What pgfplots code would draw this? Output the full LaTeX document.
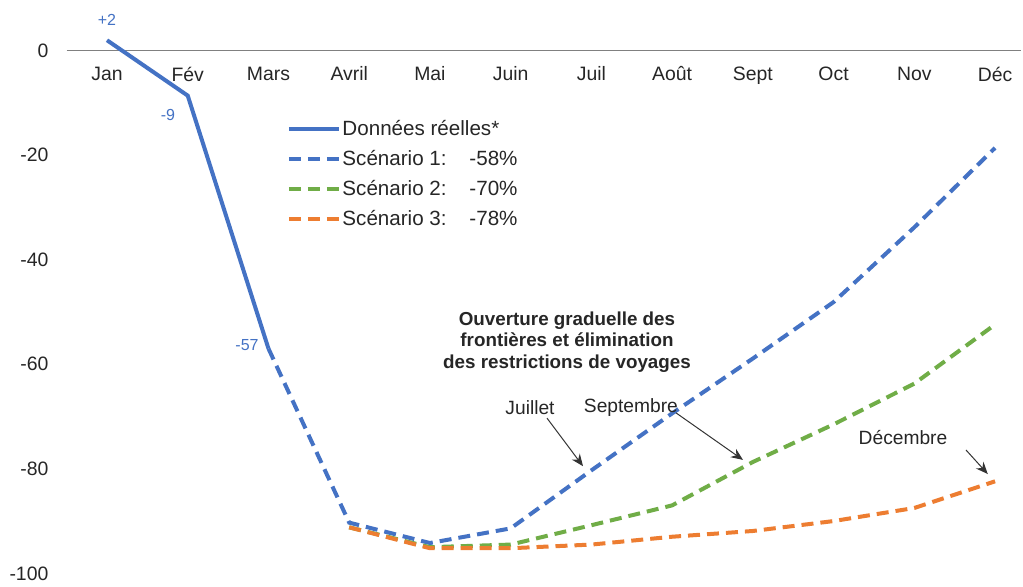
\documentclass[border=0pt]{standalone}
\usepackage{fontspec}
\setmainfont{Liberation Sans}
\usepackage{pgfplots}
\pgfplotsset{compat=1.18}
\usetikzlibrary{arrows.meta}

\definecolor{sblue}{HTML}{4472C4}
\definecolor{sgreen}{HTML}{70AD47}
\definecolor{sorange}{HTML}{ED7D31}
\definecolor{txt}{HTML}{262626}

\begin{document}
\begin{tikzpicture}
\begin{axis}[
    scale only axis,
    width=477.1pt,
    height=274.37pt,
    xmin=0.5, xmax=12.32,
    ymin=-100, ymax=5,
    clip=false,
    axis x line*=middle,
    axis y line*=left,
    hide obscured x ticks=false,
    hide obscured y ticks=false,
    y axis line style={draw=none},
    x axis line style={draw=black!50, line width=0.8pt},
    major tick length=0pt,
    xtick={1,...,12},
    xticklabels={Jan,Fév,Mars,Avril,Mai,Juin,Juil,Août,Sept,Oct,Nov,Déc},
    ytick={-100,-80,-60,-40,-20,0},
    yticklabels={-100,-80,-60,-40,-20,0},
    tick label style={font=\fontsize{9.7}{11}\selectfont, text=txt},
    xticklabel style={yshift=-4.5pt},
    yticklabel style={xshift=-5.6pt},
    legend style={
        at={(axis cs:3.228,-12.1)}, anchor=north west,
        draw=none, fill=none, inner sep=0pt, outer sep=0pt,
        font=\fontsize{10.3}{12}\selectfont, text=txt,
        row sep=0pt,
        nodes={inner sep=0pt, text height=11pt, text depth=4pt},
        /tikz/every odd column/.append style={column sep=0.8pt},
    },
    legend cell align=left,
    legend image code/.code={\draw[#1] (0pt,0pt) -- (25pt,0pt);},
]

% donnees reelles
\addplot[sblue, line width=2pt] coordinates {
    (1,2) (2,-8.6) (3,-57)
};
\addlegendentry{Données réelles*}

% scenario 1
\addplot[sblue, line width=2pt, dash pattern=on 6pt off 3.5pt] coordinates {
    (3,-57) (4,-90.3) (5,-94.2) (6,-91.4) (7,-80.3) (8,-69.4)
    (9,-58.9) (10,-48.1) (11,-33.8) (12,-18.6)
};
\addlegendentry{\makebox[63.5pt][l]{Scénario 1:}-58\%}

% scenario 2
\addplot[sgreen, line width=2pt, dash pattern=on 6pt off 3.5pt] coordinates {
    (4,-91.2) (5,-95) (6,-94.5) (7,-90.8) (8,-87)
    (9,-78.7) (10,-71.5) (11,-63.7) (12,-52.4)
};
\addlegendentry{\makebox[63.5pt][l]{Scénario 2:}-70\%}

% scenario 3
\addplot[sorange, line width=2pt, dash pattern=on 6pt off 3.5pt] coordinates {
    (4,-91.2) (5,-95.2) (6,-95.2) (7,-94.5) (8,-93.0)
    (9,-91.9) (10,-90) (11,-87.5) (12,-82.4)
};
\addlegendentry{\makebox[63.5pt][l]{Scénario 3:}-78\%}

% etiquettes des donnees reelles
\node[font=\fontsize{8}{9}\selectfont, text=sblue] at (axis cs:1,5.87) {+2};
\node[font=\fontsize{8}{9}\selectfont, text=sblue] at (axis cs:1.756,-12.3) {-9};
\node[font=\fontsize{8}{9}\selectfont, text=sblue] at (axis cs:2.734,-56.3) {-57};

% annotations
\node[font=\bfseries\fontsize{9.4}{10.75}\selectfont, text=txt, align=center]
    at (axis cs:6.698,-55.74)
    {Ouverture graduelle des\\frontières et élimination\\des restrictions de voyages};

\node[font=\fontsize{9.6}{11}\selectfont, text=txt] at (axis cs:6.24,-68.37) {Juillet};
\node[font=\fontsize{9.6}{11}\selectfont, text=txt] at (axis cs:7.49,-68.37) {Septembre};
\node[font=\fontsize{9.6}{11}\selectfont, text=txt] at (axis cs:10.86,-74.1) {Décembre};

\draw[black!80, line width=0.5pt, -{Stealth[length=6pt, width=5pt]}]
    (axis cs:6.45,-70.3) -- (axis cs:6.896,-79.5);
\draw[black!80, line width=0.5pt, -{Stealth[length=6pt, width=5pt]}]
    (axis cs:8.048,-69.3) -- (axis cs:8.878,-78.3);
\draw[black!80, line width=0.5pt, -{Stealth[length=6pt, width=5pt]}]
    (axis cs:11.64,-76.4) -- (axis cs:11.91,-81.0);

% cadre de la page
\path (axis cs:-0.3254,-101.47) rectangle (axis cs:12.3465,9.70);

\end{axis}
\end{tikzpicture}
\end{document}
